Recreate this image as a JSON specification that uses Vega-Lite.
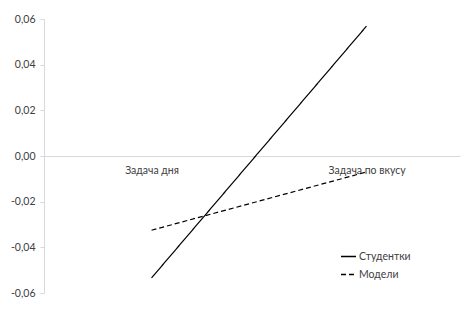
{
  "$schema": "https://vega.github.io/schema/vega-lite/v6.json",
  "autosize": {"type": "none"},
  "width": 416,
  "height": 274,
  "padding": {"left": 44, "top": 19, "right": 4, "bottom": 21},
  "background": "white",
  "config": {
    "view": {"stroke": null},
    "font": "Lato",
    "axis": {"labelFont": "Lato", "labelFontSize": 10.5, "labelColor": "#404040"},
    "legend": {"labelFont": "Lato", "labelFontSize": 10.5, "labelColor": "#404040"}
  },
  "data": {
    "values": [
      {"series": "Студентки", "task": "Задача дня", "value": -0.0534},
      {"series": "Студентки", "task": "Задача по вкусу", "value": 0.0569},
      {"series": "Модели", "task": "Задача дня", "value": -0.0325},
      {"series": "Модели", "task": "Задача по вкусу", "value": -0.007}
    ]
  },
  "mark": {"type": "line", "color": "black", "strokeWidth": 1.2},
  "encoding": {
    "x": {
      "field": "task",
      "type": "nominal",
      "sort": ["Задача дня", "Задача по вкусу"],
      "scale": {"type": "point", "padding": 0.4674, "align": 0.535},
      "axis": {
        "title": null,
        "labelAngle": 0,
        "ticks": false,
        "offset": -137,
        "domainColor": "#d9d9d9",
        "labelPadding": 9,
        "grid": false
      }
    },
    "y": {
      "field": "value",
      "type": "quantitative",
      "scale": {"domain": [-0.06, 0.06], "nice": false, "zero": false},
      "axis": {
        "title": null,
        "values": [-0.06, -0.04, -0.02, 0, 0.02, 0.04, 0.06],
        "labelExpr": "(datum.value < -0.0001 ? '-' : '') + replace(format(abs(datum.value), '.2f'), '.', ',')",
        "grid": false,
        "domainColor": "#d9d9d9",
        "tickColor": "#d9d9d9",
        "tickSize": 4,
        "labelPadding": 5
      }
    },
    "strokeDash": {
      "field": "series",
      "type": "nominal",
      "scale": {"domain": ["Студентки", "Модели"], "range": [[1, 0], [5, 3]]},
      "legend": {
        "title": null,
        "orient": "none",
        "legendX": 296,
        "legendY": 229,
        "symbolType": "stroke",
        "symbolSize": 225,
        "symbolStrokeWidth": 1.3,
        "symbolStrokeColor": "black",
        "labelOffset": 2,
        "rowPadding": 4
      }
    }
  }
}
